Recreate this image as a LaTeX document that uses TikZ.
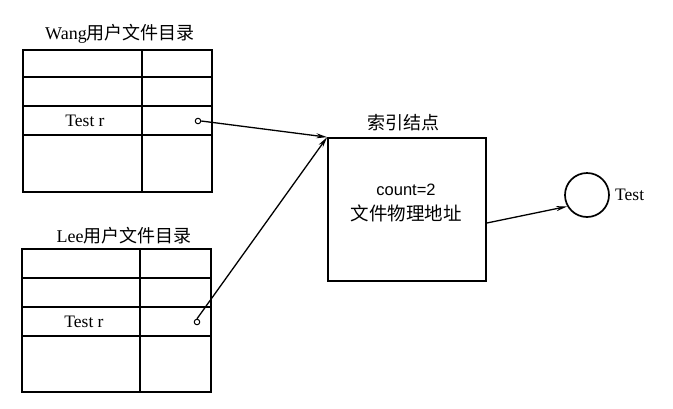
\documentclass[tikz,border=0pt]{standalone}
\usepackage{fontspec}
\setmainfont{Liberation Serif}
\newfontfamily\cjk{Noto Sans CJK SC}
\newfontfamily\sans{Liberation Sans}
\usetikzlibrary{arrows.meta}
\begin{document}
\begin{tikzpicture}[x=1pt,y=-1pt,
  grid/.style={line width=1.6pt},
  ptr/.style={line width=1.3pt,-{Stealth[length=11pt,width=5pt]}},
  hole/.style={circle,draw,line width=1pt,inner sep=0pt,minimum size=5.5pt,fill=white},
  lbl/.style={font=\fontsize{18}{20}\selectfont},
  cell/.style={font=\fontsize{17.5}{19}\selectfont}]
\useasboundingbox (0,0) rectangle (673,408);

% Wang's user file directory
\node[lbl] (wangtitle) at (120,34) {Wang\cjk 用户文件目录};
\draw[grid] (23,50) rectangle (212,192);
\draw[grid] (23,77) -- (212,77) (23,106) -- (212,106) (23,135) -- (212,135) (142,50) -- (142,192);
\node[cell] (wangentry) at (85,121) {Test r};
\node[hole] (wangptr) at (198,121) {};

% Lee's user file directory
\node[lbl] (leetitle) at (124,236) {Lee\cjk 用户文件目录};
\draw[grid] (22,249) rectangle (211,392);
\draw[grid] (22,278) -- (211,278) (22,307) -- (211,307) (22,336) -- (211,336) (140,249) -- (140,392);
\node[cell] (leeentry) at (84,322) {Test r};
\node[hole] (leeptr) at (197,322) {};

% Index node
\node[draw,line width=1.7pt,minimum width=158pt,minimum height=143pt,inner sep=0pt] (inode) at (407,209.5) {};
\node[font=\cjk\fontsize{18}{20}\selectfont] (inodetitle) at (403,123) {索引结点};
\node[font=\sans\fontsize{16.5}{18}\selectfont] (count) at (406,190) {count=2};
\node[font=\cjk\fontsize{18.5}{20}\selectfont] (addr) at (406,213) {文件物理地址};

% Physical file
\node[circle,draw,line width=1.7pt,minimum size=44pt,inner sep=0pt] (file) at (587,195) {};
\node[cell,anchor=west,inner sep=0pt] (filename) at (615,195) {Test};

% Pointers
\draw[ptr] (wangptr.east) -- (inode.north west);
\draw[ptr] (leeptr.north) -- (inode.north west);
\coordinate (out) at (inode.east |- 0,223);
\draw[ptr] (out) -- (file.210);
\end{tikzpicture}
\end{document}
